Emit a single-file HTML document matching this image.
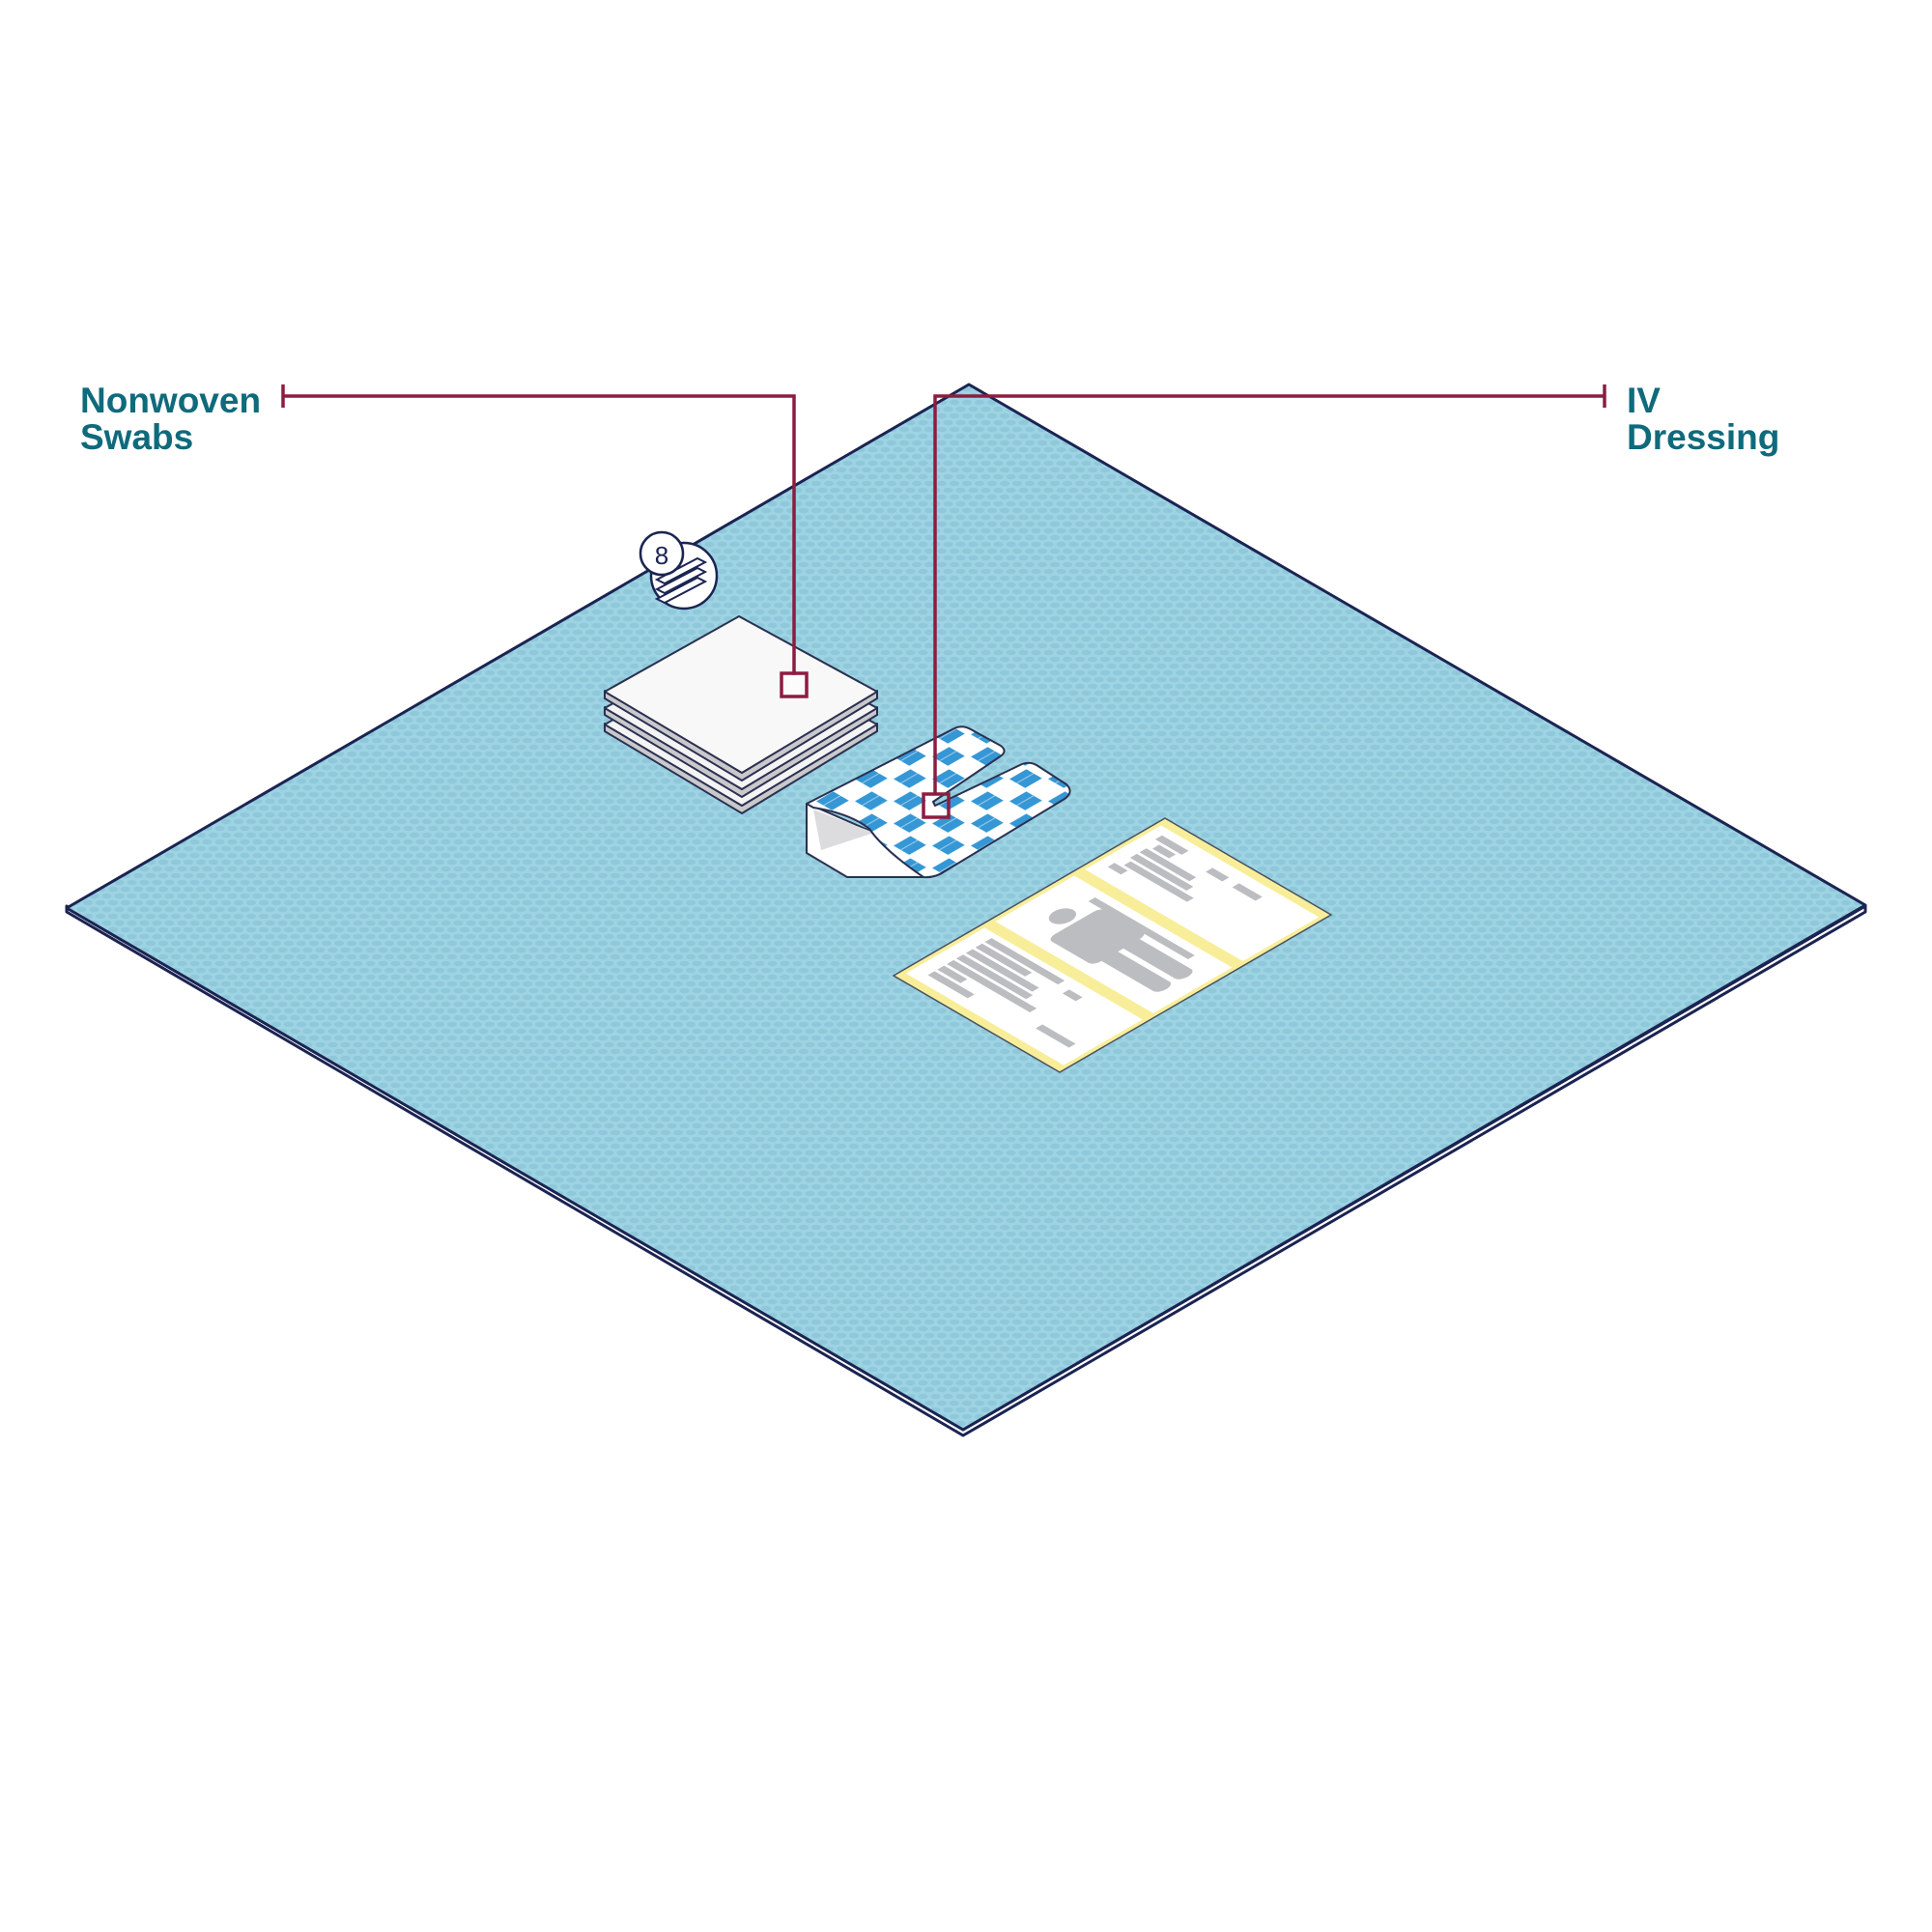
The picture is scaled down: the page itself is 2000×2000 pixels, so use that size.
<!DOCTYPE html>
<html><head><meta charset="utf-8"><style>
html,body{margin:0;padding:0;background:#fff;}
svg{display:block;}
text{font-family:"Liberation Sans",sans-serif;font-weight:bold;fill:#0f6a7c;font-size:37px;}
</style></head><body>
<svg width="2000" height="2000" viewBox="0 0 2000 2000" xmlns="http://www.w3.org/2000/svg">
<defs>
<pattern id="mesh" patternUnits="userSpaceOnUse" width="13" height="14">
<rect width="13" height="14" fill="#9dd3e2"/>
<ellipse cx="6.5" cy="3.5" rx="5" ry="2.6" fill="#8ec8da"/>
<ellipse cx="0" cy="10.5" rx="5" ry="2.6" fill="#8ec8da"/>
<ellipse cx="13" cy="10.5" rx="5" ry="2.6" fill="#8ec8da"/>
</pattern>
<pattern id="blue" patternUnits="userSpaceOnUse" width="32" height="32" patternTransform="matrix(1.25,-0.72,1.25,0.72,0,0)">
<rect width="32" height="32" fill="#fff"/>
<rect x="2" y="2" width="14" height="13" fill="#3597d5"/>
<rect x="18" y="18" width="14" height="13" fill="#3597d5"/>
<line x1="2" y1="8" x2="16" y2="8" stroke="#9cc9ea" stroke-width="0.8"/>
<line x1="18" y1="24" x2="32" y2="24" stroke="#9cc9ea" stroke-width="0.8"/>
</pattern>
</defs>

<polygon points="69,944 997,1486 1931,944 1931,938 997,1480 69,938" fill="#fff" stroke="#1b2452" stroke-width="3" stroke-linejoin="round"/>
<polygon points="1003,398 1931,937 997,1480 69,940" fill="url(#mesh)" stroke="#1b2452" stroke-width="3" stroke-linejoin="round"/>

<circle cx="708" cy="596" r="34" fill="#fff" stroke="#1b2452" stroke-width="2.5"/>
<g fill="#fff" stroke="#1b2452" stroke-width="2">
<polygon points="680,620 722,598 730,602 688,624"/>
<polygon points="680,610 722,588 730,592 688,614"/>
<polygon points="680,600 722,578 730,582 688,604"/>
</g>
<circle cx="685" cy="573" r="22" fill="#fff" stroke="#1b2452" stroke-width="2.5"/>
<text x="685" y="584" text-anchor="middle" style="font-size:26px;font-weight:normal;fill:#1b2452">8</text>

<g stroke="#2a3050" stroke-width="2" stroke-linejoin="round">
<polygon points="626,757 768,842 908,757 908,749 768,834 626,749" fill="#c9c9cc"/>
<polygon points="765,672 908,750 768,834 626,750" fill="#f4f4f5"/>
<polygon points="626,740 768,825 908,740 908,732 768,817 626,732" fill="#c9c9cc"/>
<polygon points="765,655 908,733 768,817 626,733" fill="#f4f4f5"/>
<polygon points="626,723 768,808 908,723 908,715 768,800 626,715" fill="#c9c9cc"/>
<polygon points="765,638 908,716 768,800 626,716" fill="#f8f8f8"/>
</g>

<polygon points="835,832 835,883 877,908 960,908 905,862 850,838" fill="#fff" stroke="#2a3050" stroke-width="2" stroke-linejoin="round"/>
<polygon points="842,838 850,880 905,862" fill="#dcdcdf"/>
<path d="M835,832 L988,754 Q996,750 1005,755 L1036,772 Q1044,778 1034,784 L966,830 L968,834 L1058,791 Q1066,788 1073,792 L1104,812 Q1112,820 1102,827 L978,902 Q968,909 956,908 Q915,880 900,858 Q880,842 842,836 Z" fill="url(#blue)" stroke="#2a3050" stroke-width="2" stroke-linejoin="round"/>

<g transform="matrix(1.72,1.0,-2.81,1.63,1206,847)">
<polygon points="0,0 100,0 100,100 0,100" fill="#f8ee9a" stroke="#4a5060" stroke-width="1.5" vector-effect="non-scaling-stroke"/>
<rect x="2.5" y="3" width="95" height="28" fill="#fff"/>
<rect x="2.5" y="35" width="95" height="29" fill="#fff"/>
<rect x="2.5" y="68" width="95" height="29" fill="#fff"/>
<g fill="#bcbdc0">
<rect x="8" y="6" width="16" height="2.5"/><rect x="12" y="9.5" width="10" height="2.5"/>
<rect x="10" y="13" width="30" height="2.5"/><rect x="10" y="16.5" width="34" height="2.5"/>
<rect x="12" y="20" width="38" height="2.5"/><rect x="8" y="23.5" width="8" height="2.5"/>
<rect x="40" y="7" width="10" height="2.5"/><rect x="56" y="7" width="14" height="2.5"/>
<rect x="20" y="38" width="60" height="2.5"/>
<rect x="10" y="70" width="44" height="2.5"/><rect x="10" y="73.5" width="30" height="2.5"/>
<rect x="10" y="77" width="40" height="2.5"/><rect x="10" y="80.5" width="42" height="2.5"/>
<rect x="10" y="84" width="50" height="2.5"/><rect x="10" y="87.5" width="14" height="2.5"/>
<rect x="10" y="91" width="24" height="2.5"/><rect x="60" y="72" width="8" height="2.5"/>
<rect x="70" y="88" width="20" height="2.5"/>
<ellipse cx="20" cy="50" rx="5" ry="4"/>
<rect x="27" y="40" width="28" height="20" rx="3"/>
<rect x="52" y="43" width="37" height="6" rx="3"/>
<rect x="52" y="51" width="37" height="6" rx="3"/>
</g>
</g>

<g stroke="#8c1d40" stroke-width="3.5" fill="none">
<line x1="293" y1="398" x2="293" y2="422"/>
<polyline points="293,410 822,410 822,699"/>
<rect x="809" y="697" width="26" height="24" fill="#fff" fill-opacity="0.5"/>
<line x1="1661" y1="398" x2="1661" y2="422"/>
<polyline points="1661,410 968,410 968,822"/>
<rect x="956" y="822" width="26" height="24"/>
</g>

<text x="83" y="427">Nonwoven</text>
<text x="83" y="465">Swabs</text>
<text x="1684" y="427">IV</text>
<text x="1684" y="465">Dressing</text>
</svg>
</body></html>
